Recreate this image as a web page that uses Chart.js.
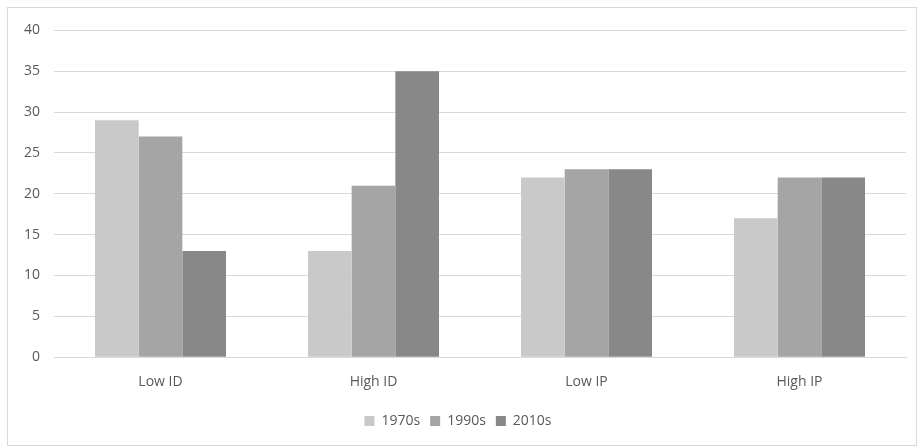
<!DOCTYPE html>
<html lang="en">
<head>
    <meta charset="UTF-8">
    <title>Chart</title>
    <script src="https://cdn.jsdelivr.net/npm/chart.js"></script>
    <style>
        body { margin: 0; background: #fff; }
        .moldura {
            position: absolute; left: 7px; top: 7px;
            width: 910px; height: 439px;
            border: 1px solid #d9d9d9; box-sizing: border-box;
        }
    </style>
</head>
<body>
    <div class="moldura">
        <canvas id="grafico"></canvas>
    </div>

<script>
    // dados
    const categorias = ['Low ID', 'High ID', 'Low IP', 'High IP'];
    const serie1970 = [29, 13, 22, 17];
    const serie1990 = [27, 21, 23, 22];
    const serie2010 = [13, 35, 23, 22];
    const ticksY = [0, 5, 10, 15, 20, 25, 30, 35, 40];

    const fonte = { family: 'Open Sans, Liberation Sans, sans-serif', size: 14 };

    const dados = {
        labels: categorias,
        datasets: [
            { label: '1970s', data: serie1970, backgroundColor: '#c9c9c9' },
            { label: '1990s', data: serie1990, backgroundColor: '#a5a5a5' },
            { label: '2010s', data: serie2010, backgroundColor: '#888888' }
        ]
    };

    const config = {
        type: 'bar',
        data: dados,
        options: {
            responsive: false,
            animation: false,
            layout: { padding: { left: 2, right: 10, top: 11, bottom: 7 } },
            datasets: { bar: { categoryPercentage: 0.615, barPercentage: 1 } },
            plugins: {
                legend: {
                    position: 'bottom',
                    labels: { boxWidth: 10, boxHeight: 10, font: fonte, color: '#595959', padding: 10 }
                },
                tooltip: { enabled: false }
            },
            scales: {
                x: {
                    grid: { display: false },
                    border: { color: '#d9d9d9' },
                    ticks: { font: fonte, color: '#595959', padding: 8 },
                    // espaço extra entre os rótulos e a legenda
                    afterFit: function (eixo) { eixo.height += 6; }
                },
                y: {
                    min: 0, max: 40,
                    afterBuildTicks: function (eixo) {
                        eixo.ticks = ticksY.map(function (v) { return { value: v }; });
                    },
                    grid: { color: '#d9d9d9', drawTicks: false },
                    border: { display: false },
                    ticks: { font: fonte, color: '#595959', padding: 14 }
                }
            }
        }
    };

    const canvas = document.getElementById('grafico');
    canvas.width = 908;
    canvas.height = 437;
    new Chart(canvas, config);
</script>
</body>
</html>
